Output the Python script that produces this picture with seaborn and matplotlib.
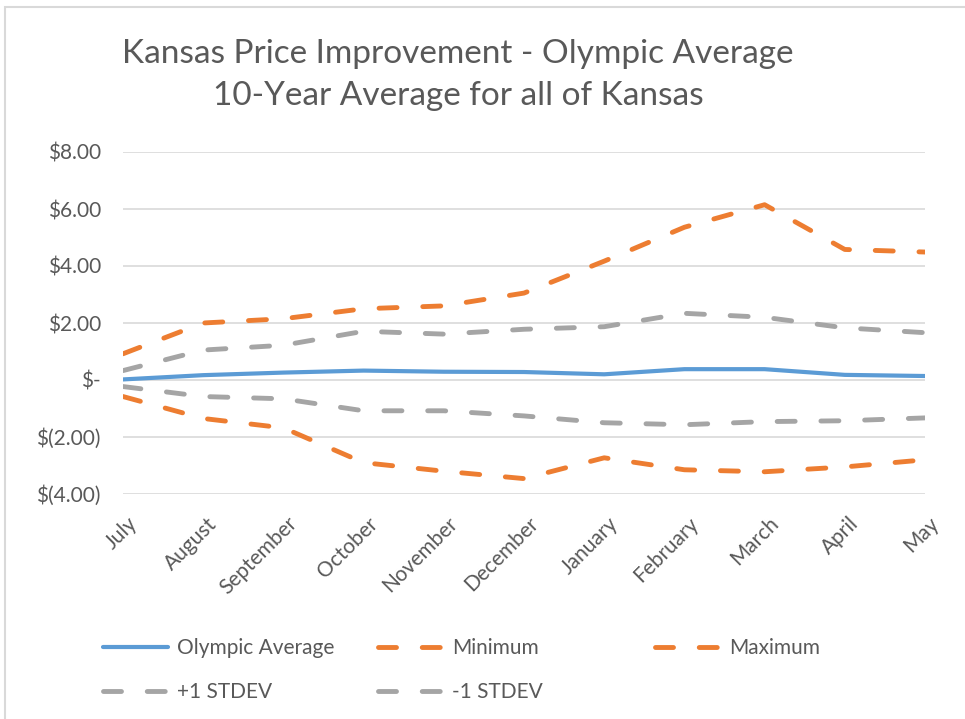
import pandas as pd
import matplotlib.pyplot as plt
import matplotlib.transforms as mtransforms
import seaborn as sns
from matplotlib.patches import Rectangle
from matplotlib.lines import Line2D

# Chart data
months = ['July', 'August', 'September', 'October', 'November', 'December',
          'January', 'February', 'March', 'April', 'May']
olympic_avg = [0.02, 0.17, 0.26, 0.33, 0.29, 0.28, 0.20, 0.38, 0.38, 0.18, 0.14]
minimum = [-0.58, -1.35, -1.68, -2.90, -3.20, -3.46, -2.73, -3.15, -3.22, -3.05, -2.80]
maximum = [0.92, 2.00, 2.15, 2.50, 2.60, 3.05, 4.17, 5.36, 6.15, 4.58, 4.49]
plus_1sd = [0.33, 1.05, 1.22, 1.71, 1.61, 1.78, 1.87, 2.34, 2.20, 1.83, 1.66]
minus_1sd = [-0.23, -0.58, -0.66, -1.08, -1.08, -1.26, -1.50, -1.57, -1.46, -1.43, -1.33]
y_ticks = [-4, -2, 0, 2, 4, 6, 8]
y_labels = ['$(4.00)', '$(2.00)', '$-', '$2.00', '$4.00', '$6.00', '$8.00']

series_names = ['Olympic Average', 'Minimum', 'Maximum', '+1 STDEV', '-1 STDEV']
series_vals = [olympic_avg, minimum, maximum, plus_1sd, minus_1sd]

BLUE = '#5B9BD5'
ORANGE = '#ED7D31'
GRAY = '#A5A5A5'
TEXT = '#595959'

# long format for seaborn
rows = []
for name, vals in zip(series_names, series_vals):
    for i, v in enumerate(vals):
        rows.append({'Month': i, 'Value': v, 'Series': name})
df = pd.DataFrame(rows)

sns.set_theme(style='white')
plt.rcParams['font.family'] = ['Lato', 'DejaVu Sans']

fig = plt.figure(figsize=(9.65, 7.19), dpi=100)
ax = fig.add_axes([123 / 965, 1 - 494 / 719, (925 - 123) / 965, (494 - 152) / 719])

palette = {'Olympic Average': BLUE, 'Minimum': ORANGE, 'Maximum': ORANGE,
           '+1 STDEV': GRAY, '-1 STDEV': GRAY}
DASH = (3.7, 5.3)
dashes = {'Olympic Average': '', 'Minimum': DASH, 'Maximum': DASH,
          '+1 STDEV': DASH, '-1 STDEV': DASH}

sns.lineplot(data=df, x='Month', y='Value', hue='Series', style='Series',
             palette=palette, dashes=dashes, hue_order=series_names,
             style_order=series_names, legend=False, ax=ax, linewidth=3.5)
for ln in ax.get_lines():
    ln.set_dash_capstyle('round')
    ln.set_solid_capstyle('round')
    if ln.get_linestyle() == '-':
        ln.set_linewidth(3.0)

ax.set_xlim(0, len(months) - 1)
ax.set_ylim(-4, 8)
ax.set_yticks(y_ticks)
ax.set_yticklabels(y_labels)
ax.set_xticks(range(len(months)))
ax.set_xticklabels(months, rotation=45, ha='right', rotation_mode='anchor')
ax.tick_params(axis='both', colors=TEXT, labelsize=15, length=0)
ax.tick_params(axis='y', pad=16)
ax.tick_params(axis='x', pad=14)
shift = mtransforms.ScaledTranslation(4 / 100, 0, fig.dpi_scale_trans)
for lab in ax.get_xticklabels():
    lab.set_transform(lab.get_transform() + shift)
ax.set_xlabel('')
ax.set_ylabel('')
ax.grid(axis='y', color='#D9D9D9', linewidth=1.2)
ax.set_axisbelow(True)
for sp in ax.spines.values():
    sp.set_visible(False)

fig.text(458 / 965, 1 - 75 / 719,
         'Kansas Price Improvement - Olympic Average\n10-Year Average for all of Kansas',
         ha='center', va='center', fontsize=24, color=TEXT, linespacing=1.5)

# legend: one entry per slot so the columns sit on a fixed grid like Excel
legend_items = [
    ('Olympic Average', dict(color=BLUE, lw=3.0, solid_capstyle='round'), 103, 648),
    ('Minimum', dict(color=ORANGE, lw=3.5, dashes=DASH, dash_capstyle='round'), 378, 648),
    ('Maximum', dict(color=ORANGE, lw=3.5, dashes=DASH, dash_capstyle='round'), 655, 648),
    ('+1 STDEV', dict(color=GRAY, lw=3.5, dashes=DASH, dash_capstyle='round'), 103, 692),
    ('-1 STDEV', dict(color=GRAY, lw=3.5, dashes=DASH, dash_capstyle='round'), 378, 692),
]
for label, style, px, py in legend_items:
    leg = fig.legend([Line2D([], [], **style)], [label], loc='center left',
                     bbox_to_anchor=(px / 965, 1 - py / 719), frameon=False,
                     fontsize=15, handlelength=3.1, handletextpad=0.45,
                     borderpad=0, borderaxespad=0)
    for t in leg.get_texts():
        t.set_color(TEXT)

# chart border
fig.patches.append(Rectangle((5 / 965, -0.01), 1.02, 1 - 7 / 719 + 0.01,
                             transform=fig.transFigure, fill=False,
                             edgecolor='#D9D9D9', linewidth=1.5))

fig.savefig('out.png', dpi=100)
